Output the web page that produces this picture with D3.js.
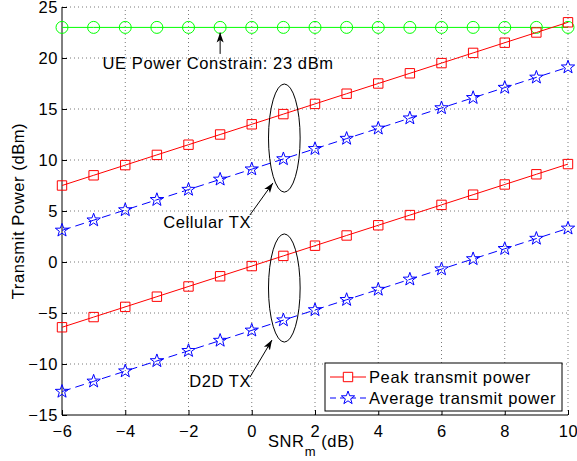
<!DOCTYPE html>
<html>
<head>
<meta charset="utf-8">
<script src="https://cdn.jsdelivr.net/npm/d3@7"></script>
<style>
  html, body { margin: 0; padding: 0; background: #fff; }
  svg { display: block; font-family: "Liberation Sans", Arial, Helvetica, sans-serif; }
</style>
</head>
<body>
<svg id="chart" width="577" height="461"></svg>
<script>
// ---- data ----
const snr = [-6, -5, -4, -3, -2, -1, 0, 1, 2, 3, 4, 5, 6, 7, 8, 9, 10];
const cellPeak = [7.5, 8.5, 9.5, 10.5, 11.5, 12.5, 13.5, 14.5, 15.5, 16.5, 17.5, 18.5, 19.5, 20.5, 21.5, 22.5, 23.5];
const cellAvg  = [3.1, 4.1, 5.1, 6.1, 7.1, 8.1, 9.1, 10.1, 11.1, 12.1, 13.1, 14.1, 15.1, 16.1, 17.1, 18.1, 19.1];
const d2dPeak  = [-6.4, -5.4, -4.4, -3.4, -2.4, -1.4, -0.4, 0.6, 1.6, 2.6, 3.6, 4.6, 5.6, 6.6, 7.6, 8.6, 9.6];
const d2dAvg   = [-12.7, -11.7, -10.7, -9.7, -8.7, -7.7, -6.7, -5.7, -4.7, -3.7, -2.7, -1.7, -0.7, 0.3, 1.3, 2.3, 3.3];
const ueLimit  = [23, 23, 23, 23, 23, 23, 23, 23, 23, 23, 23, 23, 23, 23, 23, 23, 23];
const xTicks = [-6, -4, -2, 0, 2, 4, 6, 8, 10];
const yTicks = [-15, -10, -5, 0, 5, 10, 15, 20, 25];
const legendLabels = ["Peak transmit power", "Average transmit power"];
const annoUE = "UE Power Constrain: 23 dBm";
const annoCell = "Cellular TX";
const annoD2D = "D2D TX";

// ---- layout ----
const L = 62, R = 568, T = 7, B = 415;
const FS = 16.5, LS = "0.6px";
const svg = d3.select("#chart");
const x = d3.scaleLinear().domain([-6, 10]).range([L, R]);
const y = d3.scaleLinear().domain([-15, 25]).range([B, T]);

// grid
const grid = svg.append("g").attr("stroke", "#555").attr("stroke-width", 0.8)
  .attr("stroke-dasharray", "1,3").attr("fill", "none");
xTicks.forEach(t => { if (t !== -6) grid.append("line").attr("x1", x(t)).attr("x2", x(t)).attr("y1", B).attr("y2", T); });
yTicks.forEach(t => { if (t !== -15) grid.append("line").attr("x1", L).attr("x2", R).attr("y1", y(t)).attr("y2", y(t)); });

// axes
const xAxis = d3.axisBottom(x).tickValues(xTicks).tickSize(-5).tickPadding(10)
  .tickFormat(d => d < 0 ? "\u2212" + Math.abs(d) : d);
const yAxis = d3.axisLeft(y).tickValues(yTicks).tickSize(-5).tickPadding(8)
  .tickFormat(d => d < 0 ? "\u2212" + Math.abs(d) : d);
const gx = svg.append("g").attr("transform", `translate(0,${B})`).call(xAxis);
const gy = svg.append("g").attr("transform", `translate(${L},0)`).call(yAxis);
[gx, gy].forEach(g => {
  g.select(".domain").attr("stroke", "#000").attr("stroke-width", 1);
  g.selectAll(".tick line").attr("stroke", "#000");
  g.selectAll(".tick text").attr("fill", "#000").style("font-size", FS + "px")
    .style("font-family", '"Liberation Sans", Arial, sans-serif').style("letter-spacing", LS);
});
gx.select(".domain").attr("d", `M${L},0H${R}`);
gy.select(".domain").attr("d", `M0,${B}V${T}`);
gy.selectAll(".tick text").attr("x", -4);

// marker paths
function starPath(r) {
  const ri = r * 0.4;
  let p = "";
  for (let i = 0; i < 10; i++) {
    const a = -Math.PI / 2 + i * Math.PI / 5;
    const rr = i % 2 === 0 ? r : ri;
    p += (i === 0 ? "M" : "L") + (rr * Math.cos(a)).toFixed(2) + "," + (rr * Math.sin(a)).toFixed(2);
  }
  return p + "Z";
}
const sq = 4.7;
const markers = {
  square: `M${-sq},${-sq}H${sq}V${sq}H${-sq}Z`,
  star: starPath(7),
  circle: d3.arc()({innerRadius: 0, outerRadius: 6, startAngle: 0, endAngle: 2 * Math.PI})
};

const series = [
  {vals: ueLimit, color: "#00ff00", dash: null, marker: "circle"},
  {vals: cellPeak, color: "#ff0000", dash: null, marker: "square"},
  {vals: cellAvg, color: "#0000ff", dash: "9,5", marker: "star"},
  {vals: d2dPeak, color: "#ff0000", dash: null, marker: "square"},
  {vals: d2dAvg, color: "#0000ff", dash: "9,5", marker: "star"}
];
const line = d3.line().x((d, i) => x(snr[i])).y(d => y(d));
series.forEach(s => {
  svg.append("path").attr("d", line(s.vals)).attr("fill", "none")
    .attr("stroke", s.color).attr("stroke-width", 1)
    .attr("stroke-dasharray", s.dash);
  svg.append("g").selectAll("path").data(s.vals).join("path")
    .attr("d", markers[s.marker])
    .attr("transform", (d, i) => `translate(${x(snr[i])},${y(d)})`)
    .attr("fill", "none").attr("stroke", s.color).attr("stroke-width", 1);
});

// annotations
const defs = svg.append("defs");
defs.append("marker").attr("id", "ah").attr("viewBox", "0 0 10 10")
  .attr("refX", 10).attr("refY", 5).attr("markerWidth", 10).attr("markerHeight", 10)
  .attr("markerUnits", "userSpaceOnUse").attr("orient", "auto")
  .append("path").attr("d", "M0,1.5L10,5L0,8.5L2.5,5Z").attr("fill", "#000");

function arrow(x1, y1, x2, y2) {
  svg.append("line").attr("x1", x(x1)).attr("y1", y(y1)).attr("x2", x(x2)).attr("y2", y(y2))
    .attr("stroke", "#000").attr("stroke-width", 1).attr("marker-end", "url(#ah)");
}
function label(txt, xv, yv) {
  svg.append("text").attr("x", x(xv)).attr("y", y(yv)).text(txt)
    .style("font-size", FS + "px").style("letter-spacing", LS).attr("fill", "#000");
}
function ellipse(cx, cy, rxU, ryU) {
  svg.append("ellipse").attr("cx", x(cx)).attr("cy", y(cy))
    .attr("rx", x(rxU) - x(0)).attr("ry", y(0) - y(ryU))
    .attr("fill", "none").attr("stroke", "#000").attr("stroke-width", 1);
}
arrow(-1, 20.4, -1, 22.5);
label(annoUE, -4.72, 18.9);
ellipse(1.03, 12.15, 0.5, 5.3);
ellipse(1.03, -2.55, 0.5, 5.3);
arrow(-0.06, 4.6, 0.67, 7.75);
label(annoCell, -2.8, 3.33);
arrow(-0.06, -11.3, 0.64, -7.65);
label(annoD2D, -1.98, -12.25);

// axis titles
const xt = svg.append("text").attr("x", 268).attr("y", 447).style("font-size", FS + "px")
  .style("letter-spacing", LS).attr("fill", "#000");
xt.append("tspan").text("SNR");
xt.append("tspan").attr("dy", 9).style("font-size", "13px").text("m");
xt.append("tspan").attr("dy", -9).text(" (dB)");

svg.append("text").attr("transform", `translate(24,${(T + B) / 2}) rotate(-90)`)
  .attr("text-anchor", "middle").style("font-size", FS + "px").style("letter-spacing", LS)
  .attr("fill", "#000").text("Transmit Power (dBm)");

// legend
const lg = svg.append("g");
lg.append("rect").attr("x", 325).attr("y", 363).attr("width", 237).attr("height", 48)
  .attr("fill", "#fff").attr("stroke", "#000").attr("stroke-width", 1);
const legendItems = [
  {label: legendLabels[0], color: "#ff0000", dash: null, marker: "square"},
  {label: legendLabels[1], color: "#0000ff", dash: "9,5", marker: "star"}
];
legendItems.forEach((it, i) => {
  const yy = 377 + i * 21;
  lg.append("line").attr("x1", 330).attr("x2", 366).attr("y1", yy).attr("y2", yy)
    .attr("stroke", it.color).attr("stroke-width", 1)
    .attr("stroke-dasharray", it.dash ? "6,4" : null);
  lg.append("path").attr("d", markers[it.marker]).attr("transform", `translate(348,${yy})`)
    .attr("fill", "#fff").attr("stroke", it.color);
  lg.append("text").attr("x", 369).attr("y", yy + 6).text(it.label)
    .style("font-size", FS + "px").style("letter-spacing", LS).attr("fill", "#000");
});
</script>
</body>
</html>
